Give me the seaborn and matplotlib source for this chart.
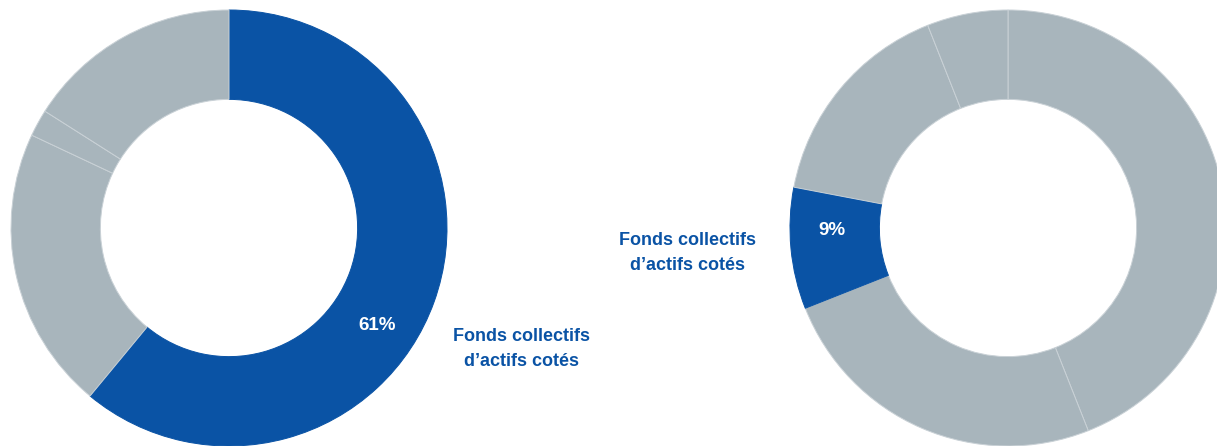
import numpy as np
import matplotlib
matplotlib.use("Agg")
import matplotlib.pyplot as plt
import seaborn as sns

sns.set_theme(style="white")
plt.rcParams['font.family'] = ['Liberation Sans', 'DejaVu Sans']

# ---------------- data ----------------
left_values = [61, 21, 2, 16]
left_highlight = 0
right_values = [44, 25, 9, 16, 6]
right_highlight = 2
label_text = "Fonds collectifs\nd\u2019actifs cotés"

BLUE = "#0A53A5"
GREY = "#A8B5BC"
EDGE = "#C9D1D6"

W, H = 1217, 446
fig = plt.figure(figsize=(W / 100, H / 100), dpi=100)
R = 218  # outer radius in px


def donut(cx, cy, values, hi, pct_xy, lab_xy):
    ax = fig.add_axes([(cx - R) / W, (H - cy - R) / H, 2 * R / W, 2 * R / H])
    colors = [BLUE if i == hi else GREY for i in range(len(values))]
    wedges, _ = ax.pie(values, colors=colors, startangle=90, counterclock=False,
                       radius=1, wedgeprops=dict(width=0.41, edgecolor=EDGE, linewidth=0.7))
    wedges[hi].set_edgecolor(BLUE)
    ax.set_xlim(-1, 1)
    ax.set_ylim(-1, 1)
    ax.set_aspect("equal")
    ax.axis("off")
    ax.text(pct_xy[0], pct_xy[1], f"{values[hi]}%", color="white", fontsize=13.5,
            fontweight="bold", ha="center", va="center")
    ax.text(lab_xy[0], lab_xy[1], label_text, color=BLUE, fontsize=13,
            fontweight="bold", ha="center", va="center", linespacing=1.6,
            multialignment="center", clip_on=False)
    return ax


donut(229, 228, left_values, left_highlight, (0.68, -0.445), (1.34, -0.555))
donut(1008, 228, right_values, right_highlight, (-0.807, -0.01), (-1.47, -0.115))

fig.savefig("out.png", dpi=100)
